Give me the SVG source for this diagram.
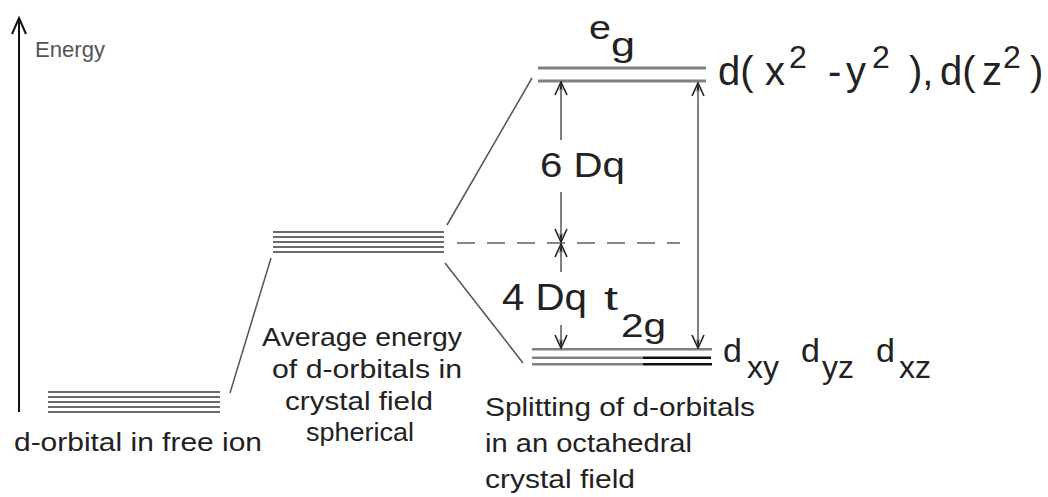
<svg xmlns="http://www.w3.org/2000/svg" width="1048" height="497" viewBox="0 0 1048 497">
<style>
.t{font-family:"Liberation Sans",Arial,sans-serif;fill:#222}
.lvl{stroke:#6a6a6a;stroke-width:2.2;fill:none}
.con{stroke:#555;stroke-width:1.5;fill:none}
.arr{stroke:#808080;stroke-width:2;fill:none}
</style>
<defs>
<marker id="ah" markerUnits="userSpaceOnUse" markerWidth="16" markerHeight="16" viewBox="0 0 16 16" refX="15" refY="8" orient="auto-start-reverse">
<path d="M2,2 L15,8 L2,14" fill="none" stroke="#222" stroke-width="1.6"/>
<path d="M15,8 L6,6.3 L8.5,8 L6,9.7 Z" fill="#222"/>
</marker>
</defs>
<rect width="1048" height="497" fill="#fff"/>
<g id="axis">
<line x1="19" y1="412" x2="19" y2="19" stroke="#111" stroke-width="2"/>
<path d="M12,34 L19,18 L26,34" fill="none" stroke="#111" stroke-width="2"/>
<text class="t" x="35" y="57" font-size="22" style="fill:#555" textLength="70" lengthAdjust="spacingAndGlyphs">Energy</text>
</g>
<g id="free-ion">
<path class="lvl" d="M48,392H220M48,397H220M48,402H220M48,407H220M48,412H220"/>
<text class="t" x="14" y="451" font-size="26" textLength="248" lengthAdjust="spacingAndGlyphs">d-orbital in free ion</text>
</g>
<g id="spherical">
<path class="lvl" d="M273,232H444M273,237H444M273,242H444M273,247H444M273,252H444"/>
<text class="t" x="262" y="346" font-size="26" textLength="200" lengthAdjust="spacingAndGlyphs">Average energy</text>
<text class="t" x="272" y="378" font-size="26" textLength="190" lengthAdjust="spacingAndGlyphs">of d-orbitals in</text>
<text class="t" x="285" y="410" font-size="26" textLength="148" lengthAdjust="spacingAndGlyphs">crystal field</text>
<text class="t" x="306" y="441" font-size="26" textLength="108" lengthAdjust="spacingAndGlyphs">spherical</text>
</g>
<g id="eg">
<path d="M538,68H706M538,81H706" stroke="#808080" stroke-width="3" fill="none"/>
<text class="t" x="589" y="39" font-size="34" textLength="22" lengthAdjust="spacingAndGlyphs">e</text>
<text class="t" x="611" y="56" font-size="34" textLength="24" lengthAdjust="spacingAndGlyphs">g</text>
<text class="t" font-size="40">
<tspan x="718" y="85">d(</tspan><tspan x="765" y="85">x</tspan><tspan x="789" y="68" font-size="32">2</tspan><tspan x="828" y="85">-</tspan><tspan x="846" y="85">y</tspan><tspan x="872" y="68" font-size="32">2</tspan><tspan x="909" y="85">),</tspan><tspan x="940" y="85">d(</tspan><tspan x="982" y="85">z</tspan><tspan x="1003" y="68" font-size="32">2</tspan><tspan x="1030" y="85">)</tspan>
</text>
</g>
<g id="t2g">
<path d="M532,349.3H712M532,357.7H643M532,364.3H643" stroke="#808080" stroke-width="2.4" fill="none"/>
<path d="M643,357.7H711M643,364.3H712" stroke="#111" stroke-width="2.6" fill="none"/>
<text class="t" x="604" y="310" font-size="34" textLength="14" lengthAdjust="spacingAndGlyphs">t</text>
<text class="t" x="621" y="337" font-size="34" textLength="45" lengthAdjust="spacingAndGlyphs">2g</text>
<text class="t" font-size="34">
<tspan x="723" y="362">d</tspan><tspan x="747" y="378" font-size="32">xy</tspan><tspan x="801" y="362">d</tspan><tspan x="822" y="378" font-size="32">yz</tspan><tspan x="876" y="362">d</tspan><tspan x="899" y="378" font-size="32">xz</tspan>
</text>
<text class="t" x="485" y="416" font-size="26" textLength="270" lengthAdjust="spacingAndGlyphs">Splitting of d-orbitals</text>
<text class="t" x="485" y="452" font-size="26" textLength="207" lengthAdjust="spacingAndGlyphs">in an octahedral</text>
<text class="t" x="485" y="488" font-size="26" textLength="150" lengthAdjust="spacingAndGlyphs">crystal field</text>
</g>
<g id="connectors">
<line class="con" x1="230" y1="393" x2="271" y2="258"/>
<line class="con" x1="447" y1="225" x2="532" y2="78"/>
<line class="con" x1="445" y1="263" x2="523" y2="363"/>
<line x1="457" y1="243" x2="680" y2="243" stroke="#888" stroke-width="2" stroke-dasharray="18 12"/>
<line class="arr" x1="561" y1="140" x2="561" y2="82" marker-end="url(#ah)"/>
<line class="arr" x1="561" y1="192" x2="561" y2="242" marker-end="url(#ah)"/>
<line class="arr" x1="561" y1="272" x2="561" y2="244" marker-end="url(#ah)"/>
<line class="arr" x1="561" y1="325" x2="561" y2="348" marker-end="url(#ah)"/>
<line class="arr" x1="698" y1="83" x2="698" y2="348" marker-start="url(#ah)" marker-end="url(#ah)"/>
<text class="t" x="540" y="177" font-size="35" textLength="85" lengthAdjust="spacingAndGlyphs">6 Dq</text>
<text class="t" x="502" y="310" font-size="36" textLength="85" lengthAdjust="spacingAndGlyphs">4 Dq</text>
</g>
</svg>
